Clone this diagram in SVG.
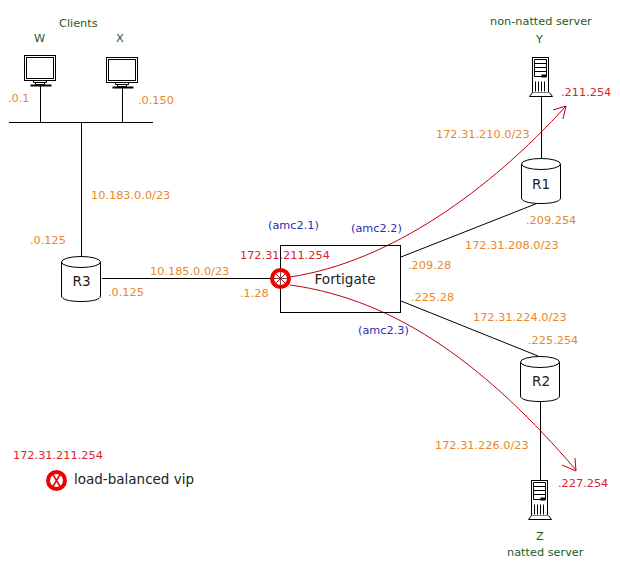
<svg xmlns="http://www.w3.org/2000/svg" width="620" height="571" viewBox="0 0 620 571">
<style>
text{font-family:"DejaVu Sans",sans-serif;font-size:11.3px}
.o{fill:#e8872a}.r{fill:#d8242c}.b{fill:#2a2ab8}.g{fill:#1e5c1e}
.n{fill:#222;font-size:13.6px;text-anchor:middle}
.l{fill:none;stroke:#000;stroke-width:1}
.a{fill:none;stroke:#c00010;stroke-width:1}
.s{fill:#fff;stroke:#000;stroke-width:1}
.vip{fill:#fff;stroke:#ee0000;stroke-width:4}
</style>
<defs>
<g id="pc">
<rect x="0" y="0" width="31" height="25" class="s"/>
<rect x="2" y="2" width="27" height="21" class="s"/>
<path d="M9 25v2h13v-2M11 27v2h9v-2" class="l"/>
<path d="M6 30h21" stroke="#000" stroke-width="2" fill="none"/>
</g>
<g id="srv">
<rect x="3" y="0" width="16" height="35" class="s"/>
<path d="M5 2h12v17H5zM5 6h12M5 10h12M5 14h12" class="l"/>
<path d="M12 17h5v3h-5z" fill="#000"/>
<path d="M6 24v10M9 24v10M12 24v10M15 24v10" class="l"/>
<path d="M3 35l-3 4h23l-3-4" class="s"/>
</g>
<g id="cyl">
<path d="M0 5.500v34c0 3.500 8 5.500 19.500 5.500S39 43 39 39.500v-34" class="s"/>
<ellipse cx="19.500" cy="5.500" rx="19.500" ry="5.500" class="s"/>
</g>
</defs>
<g id="connectors">
<path class="l" d="M9 122.500H153M40.500 84V122M122.500 86V123M81.500 122V257M102 278.500H280M541.500 96V158M401 257L538 203M401 301L538 356M540.500 400V481"/>
<path class="a" d="M290 277C390 262 490 190 566 106M290 285C400 300 490 370 576 470"/>
<path class="a" d="M553 110L566 106L563 119M562 465L576 471L575 458"/>
</g>
<g id="node-w"><use href="#pc" x="24.500" y="55.500"/><text x="34" y="42" class="g">W</text></g>
<g id="node-x"><use href="#pc" x="106.500" y="57.500"/><text x="116" y="42" class="g">X</text></g>
<g id="node-y"><use href="#srv" x="529.500" y="57.500"/><text x="536" y="43" class="g">Y</text></g>
<g id="node-z"><use href="#srv" x="528.500" y="480.500"/><text x="536" y="540" class="g">Z</text></g>
<g id="node-r1"><use href="#cyl" x="521.500" y="158.500"/><text x="541" y="189" class="n">R1</text></g>
<g id="node-r2"><use href="#cyl" x="520.500" y="356.500"/><text x="541" y="386" class="n">R2</text></g>
<g id="node-r3"><use href="#cyl" x="61.500" y="256.500"/><text x="81.500" y="286" class="n">R3</text></g>
<g id="node-fortigate">
<rect x="280.500" y="245.500" width="120" height="67" fill="none" stroke="#000"/>
<text x="345" y="284" class="n">Fortigate</text>
</g>
<g id="vip">
<circle cx="280.500" cy="278.500" r="8.500" class="vip"/>
<path d="M275 273L286 284M286 273L275 284" stroke="#ee0000" fill="none"/>
<path d="M274 278.500H287M280.500 272V285" stroke="#333" stroke-width="0.800" fill="none"/>
</g>
<g id="legend-vip">
<circle cx="56.500" cy="480.500" r="8.500" class="vip"/>
<path d="M52 473L61 488M61 473L52 488" stroke="#ee0000" stroke-width="1.500" fill="none"/>
<text x="74" y="484" fill="#222" style="font-size:13.5px">load-balanced vip</text>
</g>
<g id="labels">
<text x="59" y="27" class="g">Clients</text>
<text x="490" y="25" class="g">non-natted server</text>
<text x="507" y="556" class="g">natted server</text>
<text x="8" y="102" class="o">.0.1</text>
<text x="138" y="104" class="o">.0.150</text>
<text x="91" y="199" class="o">10.183.0.0/23</text>
<text x="30" y="244" class="o">.0.125</text>
<text x="150" y="275" class="o">10.185.0.0/23</text>
<text x="108" y="296" class="o">.0.125</text>
<text x="240" y="297" class="o">.1.28</text>
<text x="268" y="229" class="b">(amc2.1)</text>
<text x="351" y="232" class="b">(amc2.2)</text>
<text x="358" y="334" class="b">(amc2.3)</text>
<text x="240" y="259" class="r">172.31.211.254</text>
<text x="436" y="138" class="o">172.31.210.0/23</text>
<text x="561" y="96" class="r">.211.254</text>
<text x="526" y="224" class="o">.209.254</text>
<text x="465" y="249" class="o">172.31.208.0/23</text>
<text x="408" y="269" class="o">.209.28</text>
<text x="411" y="301" class="o">.225.28</text>
<text x="473" y="321" class="o">172.31.224.0/23</text>
<text x="528" y="344" class="o">.225.254</text>
<text x="435" y="449" class="o">172.31.226.0/23</text>
<text x="558" y="487" class="r">.227.254</text>
<text x="13" y="459" class="r">172.31.211.254</text>
</g>
</svg>
